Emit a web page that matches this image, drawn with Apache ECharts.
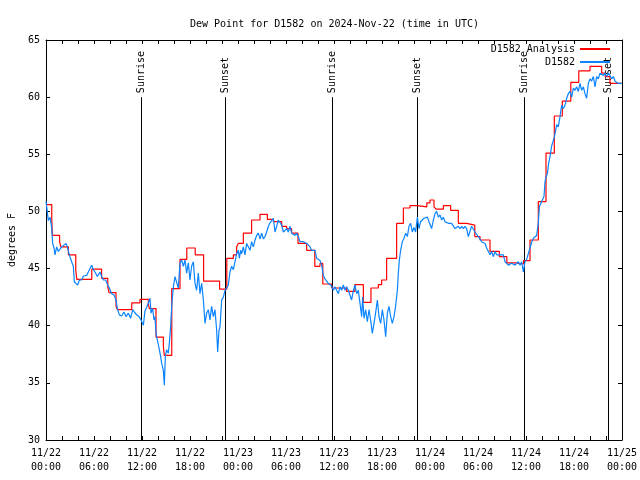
<!DOCTYPE html>
<html>
<head>
<meta charset="utf-8">
<script src="https://cdn.jsdelivr.net/npm/echarts@6/dist/echarts.min.js"></script>
<style>html,body{margin:0;padding:0;background:#fff}#c{width:640px;height:480px}</style>
</head>
<body>
<div id="c"></div>
<script>
// x in hours since 2024-11-22 00:00 UTC
const xTickLabels = ['11/22\n00:00','11/22\n06:00','11/22\n12:00','11/22\n18:00','11/23\n00:00','11/23\n06:00','11/23\n12:00','11/23\n18:00','11/24\n00:00','11/24\n06:00','11/24\n12:00','11/24\n18:00','11/25\n00:00'];
const sunHours = [11.92, 22.43, 35.8, 46.33, 59.79, 70.3];
const sunLabels = ['Sunrise','Sunset','Sunrise','Sunset','Sunrise','Sunset'];

const redHours = [0,0.72,0.8,1.7,1.85,2.8,3.72,3.85,5.72,6.95,7.72,7.88,8.75,8.92,10.72,11.75,12.8,12.92,13.75,14.67,14.79,15.72,16.75,17.6,18.65,19.7,21.7,22.6,23.42,23.83,24.04,24.67,25.7,26.75,27.67,28.42,29.46,30.08,30.7,31.5,32.58,33.6,34.25,34.6,35.7,37.58,38.62,39.67,40.62,41.54,41.96,42.58,43.83,44.67,45.5,46.4,47.6,48.0,48.5,48.75,49.67,50.58,51.54,52.58,53.6,54.25,55.5,56.67,57.6,58.7,59.7,60.5,61.54,62.5,63.54,64.54,65.6,66.6,68.0,69.46,69.9,70.5,72];
const redValues = [50.6,49.3,47.9,47.35,46.9,46.2,44.9,44.05,44.95,44.15,43.4,42.9,41.7,41.4,42.0,42.3,41.9,41.5,39.0,38.2,37.4,43.25,45.8,46.8,46.2,43.9,43.2,45.9,46.2,46.9,47.2,48.1,49.25,49.75,49.3,49.1,48.7,48.5,48.1,47.2,46.6,45.2,45.45,43.65,43.3,43.0,43.6,42.05,43.3,43.6,44.0,45.9,48.95,50.3,50.5,50.4,50.75,51.0,50.4,50.2,50.5,50.1,48.96,48.8,47.8,47.5,46.5,46.04,45.5,45.4,45.7,47.5,50.85,55.1,58.35,59.66,61.3,62.3,62.7,62.1,61.8,61.2,61.2];

const blueObs = [
[0,50.9],[0.08,51.0],[0.29,49.2],[0.5,49.5],[0.71,48.6],[0.83,47.2],[1.0,46.8],[1.125,46.2],[1.33,46.9],[1.54,46.5],[1.75,46.6],[1.96,46.9],[2.17,46.8],[2.5,47.2],[2.67,46.9],[2.92,46.2],[3.2,45.6],[3.42,45.2],[3.54,43.85],[3.75,43.85],[3.96,43.55],[4.17,44.0],[4.46,44.0],[4.67,44.35],[5.08,44.4],[5.29,44.7],[5.5,45.0],[5.71,45.3],[5.92,44.9],[6.125,44.7],[6.42,44.3],[6.75,44.7],[6.96,44.3],[7.17,44.0],[7.46,44.0],[7.71,43.55],[7.92,43.3],[8.2,42.8],[8.5,42.7],[8.75,42.25],[8.92,41.5],[9.17,40.95],[9.46,40.85],[9.75,41.2],[10.0,40.8],[10.3,41.1],[10.58,40.65],[10.83,41.4],[11.04,41.2],[11.33,40.95],[11.625,40.8],[11.875,40.5],[12.17,40.05],[12.375,41.3],[12.58,41.6],[12.79,42.0],[13.0,42.4],[13.125,41.1],[13.33,41.5],[13.5,40.5],[13.625,40.8],[13.75,39.33],[13.92,38.75],[14.17,37.9],[14.33,37.3],[14.46,36.7],[14.67,36.1],[14.79,34.8],[14.92,37.3],[15.08,37.9],[15.29,37.6],[15.42,38.5],[15.58,39.9],[15.71,41.7],[15.92,43.4],[16.125,44.3],[16.33,44.4],[16.54,43.3],[16.75,45.5],[16.96,45.75],[17.17,45.2],[17.375,45.75],[17.58,44.6],[17.79,45.5],[18.0,44.0],[18.2,45.2],[18.42,45.6],[18.625,43.7],[18.83,43.1],[19.04,44.6],[19.25,42.8],[19.46,43.7],[19.67,42.25],[19.875,40.2],[20.08,41.1],[20.29,41.4],[20.5,40.5],[20.7,41.7],[20.92,40.8],[21.125,41.4],[21.33,39.6],[21.46,37.7],[21.625,39.6],[21.75,39.9],[21.96,42.25],[22.17,42.5],[22.375,43.1],[22.58,43.3],[22.79,43.56],[23.0,44.7],[23.2,45.2],[23.42,44.9],[23.625,45.6],[23.83,46.3],
[24.04,46.6],[24.17,45.9],[24.33,46.6],[24.46,46.3],[24.67,46.9],[24.875,46.2],[25.08,47.2],[25.29,46.9],[25.5,46.6],[25.7,47.35],[25.92,46.9],[26.125,47.5],[26.33,47.9],[26.54,48.1],[26.75,47.6],[26.96,48.1],[27.17,47.6],[27.375,47.8],[27.58,48.2],[27.79,48.7],[28.0,49.0],[28.2,49.1],[28.42,49.4],[28.625,48.2],[28.83,48.7],[29.04,49.25],[29.25,49.1],[29.46,48.8],[29.67,48.2],[29.875,48.1],[30.08,48.5],[30.29,48.2],[30.5,48.7],[30.7,48.1],[30.92,48.1],[31.125,47.9],[31.33,48.1],[31.54,47.8],[31.75,47.35],[31.96,47.5],[32.17,47.35],[32.375,47.2],[32.58,47.2],[32.79,47.1],[33.0,46.9],[33.2,46.6],[33.42,46.5],[33.625,46.6],[33.83,45.9],[34.04,45.8],[34.25,45.7],[34.46,45.3],[34.67,44.4],[34.875,44.1],[35.08,44.0],[35.29,43.7],[35.5,43.7],[35.7,43.5],[35.92,43.1],[36.125,43.4],[36.33,43.1],[36.54,42.8],[36.75,43.4],[36.96,43.1],[37.17,43.56],[37.375,43.1],[37.58,43.4],[37.79,43.1],[38.0,43.27],[38.2,42.25],[38.42,43.1],[38.625,43.56],[38.83,42.8],[39.04,43.1],[39.25,41.96],[39.46,40.8],[39.58,42.5],[39.75,40.65],[39.96,41.4],[40.17,40.35],[40.375,41.4],[40.58,40.5],[40.79,39.33],[41.0,40.2],[41.2,41.1],[41.42,42.25],[41.625,40.8],[41.83,40.2],[42.04,41.4],[42.25,40.5],[42.46,39.04],[42.67,41.1],[42.875,41.7],[43.08,40.8],[43.29,40.2],[43.5,40.8],[43.7,41.7],[43.92,43.1],
[44.04,44.6],[44.17,45.75],[44.33,46.6],[44.54,47.35],[44.75,47.65],[44.96,48.1],[45.17,47.8],[45.375,48.7],[45.58,48.96],[45.79,48.2],[46.0,48.6],[46.2,48.2],[46.42,49.5],[46.625,48.5],[46.83,49.1],[47.04,48.96],[47.25,49.4],[47.46,49.3],[47.67,49.5],[47.875,49.1],[48.0,48.96],[48.2,48.5],[48.42,49.25],[48.625,49.8],[48.83,50.0],[49.04,49.5],[49.25,49.7],[49.46,49.25],[49.67,49.5],[49.875,49.1],[50.08,49.25],[50.29,48.96],[50.5,49.1],[50.7,48.96],[50.92,48.8],[51.125,48.5],[51.33,48.4],[51.54,48.7],[51.75,48.5],[51.96,48.7],[52.17,48.5],[52.375,48.7],[52.58,48.5],[52.79,47.8],[53.0,47.65],[53.2,48.7],[53.42,48.8],[53.625,48.2],[53.83,48.1],[54.04,47.8],[54.25,47.65],[54.46,47.35],[54.67,47.5],[54.875,47.2],[55.08,46.8],[55.29,46.9],[55.5,46.2],[55.7,46.5],[55.92,46.04],[56.125,46.5],[56.33,46.2],[56.54,46.04],[56.75,46.2],[56.96,46.04],[57.17,46.2],[57.375,45.6],[57.58,45.46],[57.79,45.3],[58.0,45.2],[58.2,45.46],[58.42,45.6],[58.625,45.3],[58.83,45.46],[59.04,45.6],[59.25,45.3],[59.46,45.6],[59.67,44.7],[59.875,45.6],[60.08,45.8],[60.29,46.3],[60.5,46.8],[60.7,47.3],[60.92,47.65],[61.125,47.6],[61.33,47.9],[61.54,49.0],[61.67,50.4],[61.83,50.3],[62.04,51.0],[62.25,51.3],[62.375,52.6],[62.5,53.0],[62.67,53.3],[62.83,54.2],[63.0,54.8],[63.2,55.7],[63.42,55.8],[63.54,56.5],[63.71,57.1],[63.83,57.6],[64.04,57.4],[64.25,58.3],[64.46,59.3],[64.67,59.0],[64.875,59.3],[65.08,59.9],[65.29,60.3],[65.5,60.5],[65.71,60.0],[65.92,60.8],[66.125,60.6],[66.33,60.9],[66.54,60.5],[66.75,61.2],[66.96,60.6],[67.17,60.9],[67.375,60.3],[67.58,59.9],[67.79,61.2],[68.0,61.6],[68.2,61.4],[68.42,61.8],[68.625,60.9],[68.83,61.8],[69.04,61.6],[69.25,62.1],[69.46,62.2],[69.67,61.9],[69.875,62.1],[70.08,61.8],[70.29,62.1],[70.5,61.9],[70.7,61.6],[70.92,61.8],[71.125,61.4],[71.33,61.5],[71.54,61.2],[71.75,61.35],[72,61.2]
];

const FONT = "'DejaVu Sans Mono', 'Liberation Mono', monospace";
const black = '#000';
const chart = echarts.init(document.getElementById('c'), null, {renderer: 'canvas'});

const tickStyle = {inside: true, length: 4, lineStyle: {color: black, width: 1}};
const xBase = {type: 'value', min: 0, max: 72, interval: 2, splitLine: {show: false},
  axisLine: {show: true, onZero: false, lineStyle: {color: black, width: 1}}, axisTick: tickStyle};
const yBase = {type: 'value', min: 30, max: 65, interval: 5, splitLine: {show: false},
  axisLine: {show: true, onZero: false, lineStyle: {color: black, width: 1}}, axisTick: tickStyle};

chart.setOption({
  animation: false,
  backgroundColor: '#fff',
  title: {
    text: 'Dew Point for D1582 on 2024-Nov-22 (time in UTC)',
    left: 185, top: 14,
    textStyle: {fontFamily: FONT, fontSize: 10, fontWeight: 'normal', color: black}
  },
  legend: {
    data: ['D1582 Analysis', 'D1582'],
    orient: 'vertical', align: 'right', right: 30, top: 43,
    itemWidth: 30, itemHeight: 2, itemGap: 1, icon: 'rect', padding: 0,
    textStyle: {fontFamily: FONT, fontSize: 10, color: black, lineHeight: 12}
  },
  grid: {left: 46, right: 18, top: 40, bottom: 40, containLabel: false, outerBoundsMode: 'none'},
  xAxis: [
    Object.assign({}, xBase, {position: 'bottom',
      axisLabel: {fontFamily: FONT, fontSize: 10, color: black, lineHeight: 14, margin: 6,
        formatter: v => (v % 6 === 0 ? xTickLabels[v / 6] : '')}}),
    Object.assign({}, xBase, {position: 'top', axisLabel: {show: false}})
  ],
  yAxis: [
    Object.assign({}, yBase, {position: 'left', name: 'degrees F', nameLocation: 'middle', nameGap: 28, nameRotate: 90,
      nameTextStyle: {fontFamily: FONT, fontSize: 10, color: black},
      axisLabel: {fontFamily: FONT, fontSize: 10, color: black, margin: 6}}),
    Object.assign({}, yBase, {position: 'right', axisLabel: {show: false}})
  ],
  series: [
    {
      type: 'custom', name: 'sun', xAxisIndex: 0, yAxisIndex: 0, z: 1, silent: true,
      data: sunHours.map((h, i) => [h, i]),
      renderItem: (params, api) => {
        const h = api.value(0);
        const top = api.coord([h, 60]);
        const bot = api.coord([h, 30]);
        const x = Math.round(top[0]) + 0.5;
        return {type: 'group', children: [
          {type: 'line', shape: {x1: x, y1: top[1], x2: x, y2: bot[1]}, style: {stroke: black, lineWidth: 1}},
          {type: 'text', x: x, y: top[1] - 4, rotation: Math.PI / 2,
            style: {text: sunLabels[api.value(1)], font: '10px ' + FONT, fill: black, textAlign: 'left', textVerticalAlign: 'middle'}}
        ]};
      }
    },
    {
      type: 'line', name: 'D1582 Analysis', step: 'end', showSymbol: false, symbol: 'none', z: 2,
      data: redHours.map((h, i) => [h, redValues[i]]),
      color: '#ff0000', lineStyle: {color: '#ff0000', width: 1.2}
    },
    {
      type: 'line', name: 'D1582', showSymbol: false, symbol: 'none', z: 3,
      data: blueObs,
      color: '#0a84ff', lineStyle: {color: '#0a84ff', width: 1.2}
    }
  ]
});
</script>
</body>
</html>
